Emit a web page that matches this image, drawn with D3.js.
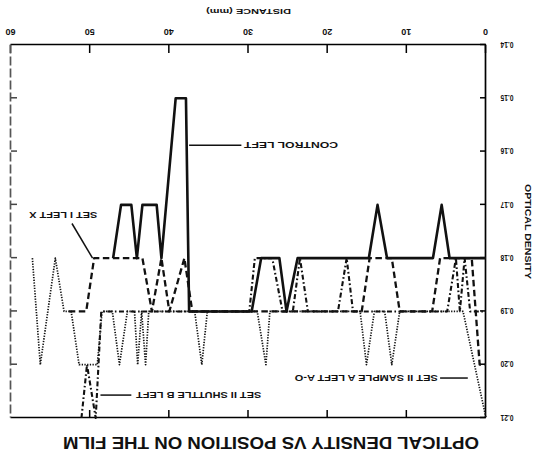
<!DOCTYPE html>
<html>
<head>
<meta charset="utf-8">
<script src="https://cdn.jsdelivr.net/npm/d3@7"></script>
<style>
  html, body { margin: 0; padding: 0; background: #fff; }
  svg { display: block; }
  text { font-family: "Liberation Sans", Arial, sans-serif; font-weight: bold; fill: #111; }
</style>
</head>
<body>
<svg id="chart" width="533" height="461"></svg>
<script>
// Tick values
const distanceTicks = [0, 10, 20, 30, 40, 50, 60];
const densityTicks = [0.14, 0.15, 0.16, 0.17, 0.18, 0.19, 0.20, 0.21];

// Series: [distance (mm), optical density]
const controlLeft = [
  [47.1, 0.18], [46.1, 0.17], [44.8, 0.17], [44.1, 0.18], [43.4, 0.17], [41.6, 0.17],
  [41.0, 0.18], [39.2, 0.15], [37.9, 0.15], [37.5, 0.19], [29.6, 0.19], [28.4, 0.18],
  [26.1, 0.18], [25.2, 0.19], [23.8, 0.18], [14.8, 0.18], [13.7, 0.17], [12.5, 0.18],
  [6.7, 0.18], [5.6, 0.17], [4.6, 0.18], [0, 0.18]
];
const setILeftX = [
  [52.7, 0.19], [50.5, 0.19], [49.5, 0.18], [43.4, 0.18], [42.2, 0.19], [41.0, 0.18],
  [40.0, 0.19], [38.1, 0.18], [37.1, 0.19], [15.7, 0.19], [14.7, 0.18], [11.9, 0.18],
  [10.9, 0.19], [6.8, 0.19], [5.8, 0.18], [1.8, 0.18], [0.8, 0.20], [0, 0.20]
];
const setIIShuttleBLeft = [
  [51.1, 0.21], [50.4, 0.20], [49.3, 0.21], [48.6, 0.19], [29.9, 0.19], [29.2, 0.18],
  [27.0, 0.18], [25.7, 0.19], [24.4, 0.19], [23.5, 0.18], [22.5, 0.19], [18.7, 0.19],
  [17.6, 0.18], [16.8, 0.19], [4.9, 0.19], [3.8, 0.18], [3.3, 0.19], [2.7, 0.18],
  [2.0, 0.19], [0, 0.19]
];
const setIISampleALeft = [
  [57.3, 0.18], [56.3, 0.20], [54.4, 0.18], [53.3, 0.19], [52.4, 0.19], [51.4, 0.20],
  [49.1, 0.20], [48.5, 0.19], [47.2, 0.19], [46.3, 0.20], [45.3, 0.19], [44.4, 0.19],
  [44.0, 0.20], [43.5, 0.19], [43.0, 0.20], [42.6, 0.19], [36.8, 0.19], [35.9, 0.20],
  [35.2, 0.19], [28.9, 0.19], [27.8, 0.20], [27.3, 0.19], [15.9, 0.19], [15.1, 0.20],
  [14.1, 0.19], [12.8, 0.19], [11.9, 0.20], [10.9, 0.19], [2.9, 0.19], [0, 0.21]
];

// Series labels with leader lines, placed in data units
const seriesLabels = [
  { text: "CONTROL LEFT", at: [18.7, 0.1588], width: 94, leader: [[30.9, 0.1588], [37.5, 0.1588]] },
  { text: "SET I LEFT X", at: [49.1, 0.1719], width: 68, leader: [[52.3, 0.1735], [49.7, 0.18]] },
  { text: "SET II SHUTTLE B LEFT", at: [28.4, 0.2057], width: 125, leader: [[44.8, 0.2057], [48.7, 0.2057]] },
  { text: "SET II SAMPLE A LEFT A-O", at: [6.1, 0.2025], width: 143, leader: [[2.3, 0.2025], [5.8, 0.2025]] }
];

const W = 533, H = 461;
const svg = d3.select("#chart");
svg.append("rect").attr("width", W).attr("height", H).attr("fill", "#fff");

// The sheet is printed upside down: draw upright, then turn the whole page.
const g = svg.append("g").attr("transform", `rotate(180 ${W / 2} ${H / 2})`);

const x = d3.scaleLinear().domain([0, 60]).range([47, 522]);
const y = d3.scaleLinear().domain([0.14, 0.21]).range([416, 43]);

// Bottom axis (distance)
const xAxis = g.append("g")
  .attr("transform", `translate(0,${y(0.14)})`)
  .call(d3.axisBottom(x).tickValues(distanceTicks).tickSizeInner(-8).tickSizeOuter(0)
    .tickPadding(9.5).tickFormat(d3.format("d")));
xAxis.selectAll("text").style("font-size", "9px").attr("fill", "#111");

// Top frame edge with inward ticks
g.append("g")
  .attr("transform", `translate(0,${y(0.21)})`)
  .call(d3.axisTop(x).tickValues(distanceTicks.slice(1, -1)).tickSizeInner(-8).tickSizeOuter(0).tickFormat(""));

// Left axis (optical density)
const yAxis = g.append("g")
  .attr("transform", `translate(${x(0)},0)`)
  .call(d3.axisLeft(y).tickValues(densityTicks).tickSizeInner(-6).tickSizeOuter(0)
    .tickFormat(d3.format(".2f")));
yAxis.selectAll("text")
  .attr("x", -21).attr("text-anchor", "middle")
  .attr("textLength", 13).attr("lengthAdjust", "spacingAndGlyphs")
  .style("font-size", "8.5px").attr("fill", "#111");

// Right frame edge, faint
const rightEdge = g.append("g")
  .attr("transform", `translate(${x(60)},0)`)
  .call(d3.axisRight(y).tickValues(densityTicks.slice(1, -1)).tickSizeInner(-6).tickSizeOuter(0).tickFormat(""));
rightEdge.select(".domain").attr("stroke", "#555").attr("stroke-dasharray", "9,3");
rightEdge.selectAll(".tick line").attr("stroke", "#444");

g.selectAll(".domain").attr("stroke-width", 1.7);
g.selectAll(".tick line").attr("stroke-width", 1.5);

// Axis titles and chart title
g.append("text")
  .attr("x", (x(0) + x(60)) / 2).attr("y", 452)
  .attr("text-anchor", "middle").style("font-size", "8px")
  .attr("textLength", 85).attr("lengthAdjust", "spacingAndGlyphs")
  .text("DISTANCE (mm)");

g.append("text")
  .attr("transform", `translate(8,${y(0.175)}) rotate(-90)`)
  .attr("text-anchor", "middle").style("font-size", "8.5px")
  .attr("textLength", 95).attr("lengthAdjust", "spacingAndGlyphs")
  .text("OPTICAL DENSITY");

g.append("text")
  .attr("x", 262).attr("y", 24)
  .attr("text-anchor", "middle").style("font-size", "17px")
  .attr("textLength", 416).attr("lengthAdjust", "spacingAndGlyphs")
  .text("OPTICAL DENSITY VS POSITION ON THE FILM");

// Data lines
const line = d3.line().x(d => x(d[0])).y(d => y(d[1]));
const series = [
  { data: setIISampleALeft, width: 1.7, dash: "1.3,1.4" },
  { data: setIIShuttleBLeft, width: 2.1, dash: "5,2.5,1.6,2.5" },
  { data: setILeftX, width: 2.3, dash: "6.5,3.5" },
  { data: controlLeft, width: 2.6, dash: null }
];
g.selectAll("path.series")
  .data(series)
  .join("path")
  .attr("class", "series")
  .attr("d", s => line(s.data))
  .attr("fill", "none")
  .attr("stroke", "#111")
  .attr("stroke-width", s => s.width)
  .attr("stroke-dasharray", s => s.dash)
  .attr("stroke-linejoin", "round");

// Series labels
const lab = g.selectAll("g.label").data(seriesLabels).join("g").attr("class", "label");
lab.append("line")
  .attr("x1", d => x(d.leader[0][0])).attr("y1", d => y(d.leader[0][1]))
  .attr("x2", d => x(d.leader[1][0])).attr("y2", d => y(d.leader[1][1]))
  .attr("stroke", "#111").attr("stroke-width", 1.5);
lab.append("text")
  .attr("x", d => x(d.at[0])).attr("y", d => y(d.at[1]) + 3.3)
  .style("font-size", "9px")
  .attr("textLength", d => d.width).attr("lengthAdjust", "spacingAndGlyphs")
  .text(d => d.text);
</script>
</body>
</html>
